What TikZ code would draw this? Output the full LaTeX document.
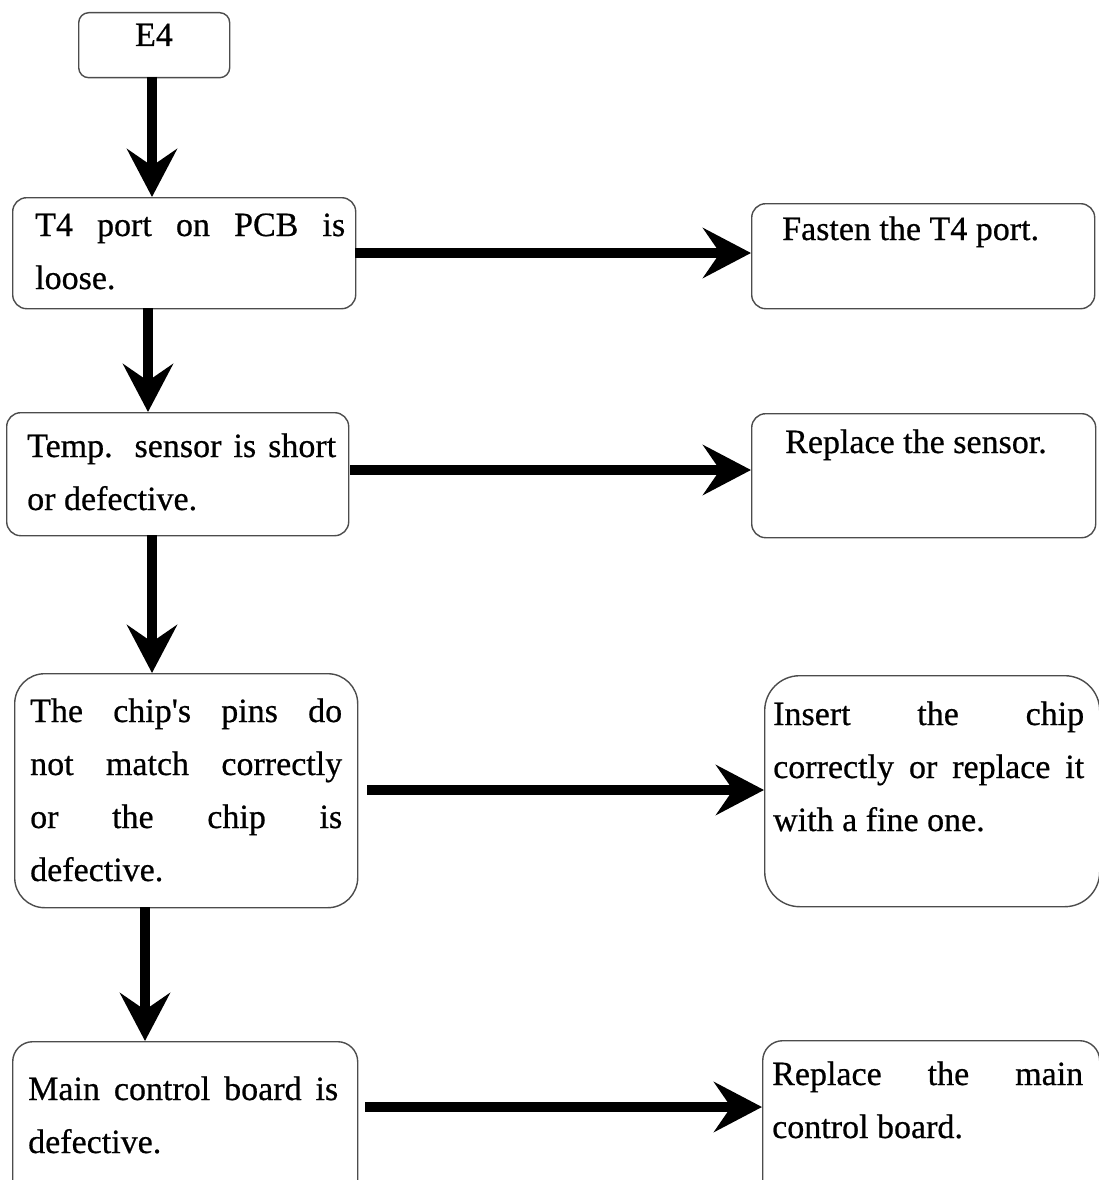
\documentclass[tikz,border=0pt]{standalone}
\usepackage{fontspec}
\setmainfont{Liberation Serif}[UprightFeatures={FakeBold=0.6}]
\usetikzlibrary{arrows.meta}
\newcommand{\jline}[1]{\makebox[\linewidth][s]{#1}\par}
\begin{document}
\begin{tikzpicture}[x=1pt,y=-1pt,
  box/.style={draw=black!70, line width=1.4pt, rounded corners=14pt, inner sep=0pt, anchor=north west},
  txt/.style={inner sep=0pt, anchor=base west, font=\fontsize{34}{53}\selectfont},
  flow/.style={line width=10pt, -{Stealth[length=48pt, width=50pt, inset=17pt]}}]
\useasboundingbox (0,0) rectangle (1099,1180);
\clip (0,0) rectangle (1099,1180);
% boxes
\node[box, rounded corners=10pt, minimum width=151pt, minimum height=65pt] (e4) at (78,12) {};
\node[box, minimum width=343pt, minimum height=111pt] (b1) at (12,197) {};
\node[box, minimum width=343pt, minimum height=105pt] (r1) at (751,203) {};
\node[box, minimum width=342pt, minimum height=123pt] (b2) at (6,412) {};
\node[box, minimum width=344pt, minimum height=124pt] (r2) at (751,413) {};
\node[box, rounded corners=30pt, minimum width=343pt, minimum height=234pt] (b3) at (14,673) {};
\node[box, rounded corners=35pt, minimum width=335pt, minimum height=231pt] (r3) at (764,675) {};
\node[box, rounded corners=20pt, minimum width=345pt, minimum height=200pt] (b4) at (12,1041) {};
\node[box, rounded corners=20pt, minimum width=337pt, minimum height=200pt] (r4) at (762,1040) {};
% texts
\node[txt, anchor=base] (te4) at (154,46) {E4};
\node[txt] (tb1) at (35,236) {\parbox[t]{310pt}{\jline{T4 port on PCB is}loose.}};
\node[txt] (tr1) at (782,240) {Fasten the T4 port.};
\node[txt] (tb2) at (27,457) {\parbox[t]{309pt}{\jline{Temp. sensor is short}or defective.}};
\node[txt] (tr2) at (785,453) {Replace the sensor.};
\node[txt] (tb3) at (30,722) {\parbox[t]{312pt}{\jline{The chip\textquotesingle s pins do}\jline{not match correctly}\jline{or the chip is}defective.}};
\node[txt] (tr3) at (773,725) {\parbox[t]{311pt}{\jline{Insert the chip}\jline{correctly or replace it}with a fine one.}};
\node[txt] (tb4) at (28,1100) {\parbox[t]{310pt}{\jline{Main control board is}defective.}};
\node[txt] (tr4) at (772,1085) {\parbox[t]{311pt}{\jline{Replace the main}control board.}};
% arrow end points
\coordinate (a0s) at (152,77);
\coordinate (a1s) at (148,308);
\coordinate (a2s) at (152,535);
\coordinate (a3s) at (145,907);
\coordinate (h1s) at (355,253);
\coordinate (h2s) at (350,470);
\coordinate (h3s) at (367,790);
\coordinate (h4s) at (365,1107);
% vertical arrows
\draw[flow] (a0s) -- (a0s |- b1.north);
\draw[flow] (a1s) -- (a1s |- b2.north);
\draw[flow] (a2s) -- (a2s |- b3.north);
\draw[flow] (a3s) -- (a3s |- b4.north);
% horizontal arrows
\draw[flow] (h1s) -- (h1s -| r1.west);
\draw[flow] (h2s) -- (h2s -| r2.west);
\draw[flow] (h3s) -- (h3s -| r3.west);
\draw[flow] (h4s) -- (h4s -| r4.west);
\end{tikzpicture}
\end{document}
